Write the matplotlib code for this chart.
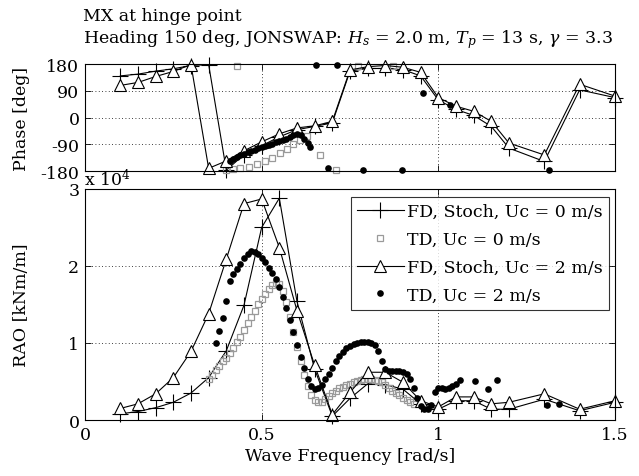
import matplotlib
matplotlib.use("Agg")
import matplotlib.pyplot as plt

plt.rcParams['font.family'] = ['DejaVu Serif']
plt.rcParams['mathtext.fontset'] = 'dejavuserif'
plt.rcParams['axes.unicode_minus'] = False

# frekans noktalari (FD, stokastik)
fd_freq = [0.10, 0.15, 0.20, 0.25, 0.30, 0.35, 0.40, 0.45, 0.50, 0.55, 0.60, 0.65, 0.70,
           0.75, 0.80, 0.85, 0.90, 0.95, 1.00, 1.05, 1.10, 1.15, 1.20, 1.30, 1.40, 1.50]

# RAO [x 1e4 kNm/m]
fd_rao_uc0 = [0.08, 0.11, 0.16, 0.23, 0.35, 0.55, 0.90, 1.49, 2.50, 2.88, 1.54, 0.66, 0.05,
              0.28, 0.47, 0.46, 0.40, 0.21, 0.14, 0.25, 0.25, 0.14, 0.14, 0.27, 0.12, 0.23]
fd_rao_uc2 = [0.15, 0.21, 0.34, 0.55, 0.89, 1.38, 2.09, 2.81, 2.87, 2.24, 1.42, 0.71, 0.07,
              0.36, 0.62, 0.62, 0.49, 0.25, 0.17, 0.30, 0.30, 0.21, 0.23, 0.34, 0.14, 0.25]

# faz [deg]
fd_faz_uc0 = [140, 146, 156, 164, 175, 178, -177, -125, -95, -65, -41, -30, -18,
              156, 165, 165, 161, 140, 59, 27, 7, -30, -103, -148, 93, 67]
fd_faz_uc2 = [108, 118, 138, 155, 178, -171, -146, -112, -82, -55, -35, -28, -13,
              160, 171, 175, 169, 152, 67, 38, 21, -13, -86, -126, 112, 72]

# TD, Uc = 0 m/s (RAO)
td0_freq = [0.35, 0.36, 0.37, 0.38, 0.39, 0.40, 0.41, 0.42, 0.43, 0.44, 0.45, 0.46, 0.47,
            0.48, 0.49, 0.50, 0.51, 0.52, 0.53, 0.54, 0.55, 0.56, 0.57, 0.58, 0.59, 0.60,
            0.61, 0.62, 0.63, 0.64, 0.65, 0.66, 0.67, 0.68, 0.69, 0.70, 0.71, 0.72, 0.73,
            0.74, 0.75, 0.76, 0.77, 0.78, 0.79, 0.80, 0.81, 0.82, 0.83, 0.84, 0.85, 0.86,
            0.87, 0.88, 0.89, 0.90, 0.91, 0.92, 0.93]
td0_rao = [0.53, 0.59, 0.65, 0.70, 0.76, 0.81, 0.87, 0.94, 1.01, 1.08, 1.17, 1.26, 1.34,
           1.42, 1.50, 1.57, 1.64, 1.70, 1.75, 1.78, 1.77, 1.68, 1.53, 1.34, 1.14, 0.95,
           0.76, 0.59, 0.44, 0.33, 0.26, 0.23, 0.24, 0.27, 0.31, 0.35, 0.38, 0.41, 0.43,
           0.45, 0.47, 0.49, 0.50, 0.52, 0.53, 0.53, 0.53, 0.52, 0.51, 0.49, 0.46, 0.42,
           0.38, 0.35, 0.32, 0.29, 0.26, 0.23, 0.21]

# TD, Uc = 2 m/s (RAO)
td2_freq = [0.37, 0.38, 0.39, 0.40, 0.41, 0.42, 0.43, 0.44, 0.45, 0.46, 0.47, 0.48, 0.49,
            0.50, 0.51, 0.52, 0.53, 0.54, 0.55, 0.56, 0.57, 0.58, 0.59, 0.60, 0.61, 0.62,
            0.63, 0.64, 0.65, 0.66, 0.67, 0.68, 0.69, 0.70, 0.71, 0.72, 0.73, 0.74, 0.75,
            0.76, 0.77, 0.78, 0.79, 0.80, 0.81, 0.82, 0.83, 0.84, 0.85, 0.86, 0.87, 0.88,
            0.89, 0.90, 0.91, 0.92, 0.93, 0.94, 0.95, 0.96, 0.97, 0.98, 0.99, 1.00, 1.01,
            1.02, 1.03, 1.04, 1.05, 1.06, 1.105, 1.142, 1.166, 1.308, 1.341]
td2_rao = [1.00, 1.15, 1.33, 1.55, 1.80, 1.90, 1.96, 2.03, 2.10, 2.16, 2.20, 2.18, 2.15,
           2.11, 2.05, 1.98, 1.91, 1.83, 1.73, 1.60, 1.46, 1.30, 1.14, 0.97, 0.82, 0.67,
           0.53, 0.44, 0.40, 0.41, 0.46, 0.53, 0.60, 0.68, 0.76, 0.83, 0.88, 0.93, 0.96,
           0.99, 1.00, 1.01, 1.01, 1.01, 1.00, 0.98, 0.90, 0.76, 0.66, 0.63, 0.63, 0.63,
           0.63, 0.62, 0.60, 0.53, 0.42, 0.29, 0.18, 0.14, 0.14, 0.20, 0.36, 0.42, 0.41,
           0.40, 0.42, 0.44, 0.47, 0.52, 0.51, 0.40, 0.52, 0.19, 0.21]

# TD faz
td0_faz_freq = [0.40, 0.42, 0.43, 0.44, 0.463, 0.486, 0.51, 0.529, 0.552, 0.571, 0.59,
                0.609, 0.628, 0.664, 0.711, 0.774, 0.873]
td0_faz = [-177, -173, 174, -170, -165, -155, -148, -137, -120, -105, -90,
           -75, -63, -127, -177, 175, 172]

td2_faz_freq = [0.41, 0.42, 0.43, 0.44, 0.45, 0.46, 0.47, 0.48, 0.49, 0.50, 0.51, 0.52,
                0.53, 0.54, 0.55, 0.56, 0.57, 0.58, 0.59, 0.60, 0.61, 0.62, 0.63, 0.637,
                0.654, 0.689, 0.713, 0.788, 0.897, 0.956, 1.032, 1.313]
td2_faz = [-145, -139, -133, -127, -122, -117, -112, -108, -104, -100, -96, -92,
           -88, -84, -80, -76, -72, -66, -60, -56, -60, -72, -85, -98,
           177, -171, 177, -178, -178, 84, 42, -177]

fig = plt.figure(figsize=(6.39, 4.77), dpi=100)
ax1 = fig.add_axes([0.133, 0.6394, 0.8294, 0.2243])
ax2 = fig.add_axes([0.133, 0.1174, 0.8294, 0.4843])

fs = 12.5
griz = dict(color='k', linestyle=(0, (1, 3)), linewidth=0.6)

# --- faz grafigi
ax1.plot(fd_freq, fd_faz_uc0, 'k-', marker='+', ms=11, mew=0.8, lw=0.8, clip_on=False)
ax1.plot(td0_faz_freq, td0_faz, 's', ms=4.5, mfc='none', mec='#9a9a9a', mew=0.9, clip_on=False)
ax1.plot(fd_freq, fd_faz_uc2, 'k-', marker='^', ms=9, mfc='white', mew=0.8, lw=0.8, clip_on=False)
ax1.plot(td2_faz_freq, td2_faz, 'ko', ms=4.8, mew=0, clip_on=False)
ax1.set_xlim(0, 1.5)
ax1.set_ylim(-180, 180)
ax1.set_yticks([-180, -90, 0, 90, 180])
ax1.set_xticks([0, 0.5, 1, 1.5])
ax1.set_xticklabels([])
ax1.set_ylabel('Phase [deg]', fontsize=fs)
ax1.yaxis.set_label_coords(-0.104, 0.5)
ax1.grid(True, **griz)

# --- RAO grafigi
ax2.plot(fd_freq, fd_rao_uc0, 'k-', marker='+', ms=11, mew=0.8, lw=0.8, clip_on=False,
         label='FD, Stoch, Uc = 0 m/s')
ax2.plot(td0_freq, td0_rao, 's', ms=4.5, mfc='none', mec='#9a9a9a', mew=0.9, clip_on=False,
         label='TD, Uc = 0 m/s')
ax2.plot(fd_freq, fd_rao_uc2, 'k-', marker='^', ms=9, mfc='white', mew=0.8, lw=0.8, clip_on=False,
         label='FD, Stoch, Uc = 2 m/s')
ax2.plot(td2_freq, td2_rao, 'ko', ms=4.8, mew=0, clip_on=False, label='TD, Uc = 2 m/s')
ax2.set_xlim(0, 1.5)
ax2.set_ylim(0, 3)
ax2.set_yticks([0, 1, 2, 3])
ax2.set_xticks([0, 0.5, 1, 1.5])
ax2.set_xticklabels(['0', '0.5', '1', '1.5'])
ax2.set_ylabel('RAO [kNm/m]', fontsize=fs)
ax2.yaxis.set_label_coords(-0.104, 0.5)
ax2.set_xlabel('Wave Frequency [rad/s]', fontsize=fs, labelpad=3)
ax2.grid(True, **griz)

leg = ax2.legend(loc='upper right', bbox_to_anchor=(0.989, 0.965), fontsize=fs, frameon=True,
                 fancybox=False, edgecolor='k', handlelength=2.7, handletextpad=0.2,
                 borderpad=0.35, labelspacing=0.62, borderaxespad=0.0)
leg.get_frame().set_linewidth(0.8)

for ax in (ax1, ax2):
    ax.tick_params(direction='in', top=True, right=True, labelsize=fs, length=4, width=0.6, pad=4)
    for s in ax.spines.values():
        s.set_linewidth(0.8)

fig.text(84 / 639, 1 - 186 / 477, 'x 10$^4$', fontsize=fs, ha='left', va='baseline')
fig.text(83 / 639, 1 - 21 / 477, 'MX at hinge point', fontsize=fs, ha='left', va='baseline')
fig.text(83 / 639, 1 - 43 / 477,
         'Heading 150 deg, JONSWAP: $H_s$ = 2.0 m, $T_p$ = 13 s, $\\gamma$ = 3.3',
         fontsize=fs, ha='left', va='baseline')

fig.savefig('out.png', dpi=100)
